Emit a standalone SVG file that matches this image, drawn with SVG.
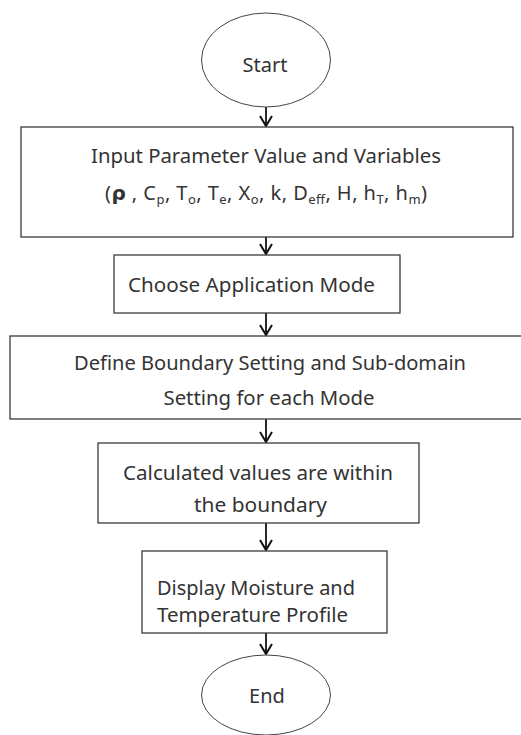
<svg xmlns="http://www.w3.org/2000/svg" width="521" height="735" viewBox="0 0 521 735">
<style>
.box{fill:#fff;stroke:#3a3a3a;stroke-width:1.3}
.ell{fill:#fff;stroke:#444;stroke-width:1}
.t{font-family:"Noto Sans","Open Sans","Liberation Sans",sans-serif;font-size:20px;fill:#333}
.c{text-anchor:middle}
.sub{font-size:13px}
.con{fill:none;stroke:#111;stroke-width:1.8}
</style>
<defs>
<marker id="v" viewBox="0 0 14 12" refX="7" refY="11" markerWidth="14" markerHeight="12" markerUnits="userSpaceOnUse" orient="0">
<path d="M1,1 L7,11 L13,1" fill="none" stroke="#111" stroke-width="2"/>
</marker>
<clipPath id="cb4"><rect x="98" y="443" width="322" height="80"/></clipPath>
</defs>
<rect width="521" height="735" fill="#fff"/>
<g id="connectors">
<path class="con" d="M266,107 V126" marker-end="url(#v)"/>
<path class="con" d="M266,237 V254" marker-end="url(#v)"/>
<path class="con" d="M266,313 V335" marker-end="url(#v)"/>
<path class="con" d="M266,419 V442" marker-end="url(#v)"/>
<path class="con" d="M266,523 V550" marker-end="url(#v)"/>
<path class="con" d="M266,633 V654" marker-end="url(#v)"/>
</g>
<g id="start">
<ellipse class="ell" cx="266" cy="60" rx="64.5" ry="47"/>
<text class="t c" x="265" y="72">Start</text>
</g>
<g id="input">
<rect class="box" x="21" y="127" width="492" height="110"/>
<text class="t c" x="266" y="163" textLength="350" lengthAdjust="spacingAndGlyphs">Input Parameter Value and Variables</text>
<text class="t" x="105" y="200" textLength="322" lengthAdjust="spacing">(<tspan font-weight="bold" font-family="DejaVu Sans,sans-serif">ρ</tspan> , C<tspan class="sub" dy="4">p</tspan><tspan dy="-4">, T</tspan><tspan class="sub" dy="4">o</tspan><tspan dy="-4">, T</tspan><tspan class="sub" dy="4">e</tspan><tspan dy="-4">, X</tspan><tspan class="sub" dy="4">o</tspan><tspan dy="-4">, k, D</tspan><tspan class="sub" dy="4">eff</tspan><tspan dy="-4">, H, h</tspan><tspan class="sub" dy="4">T</tspan><tspan dy="-4">, h</tspan><tspan class="sub" dy="4">m</tspan><tspan dy="-4">)</tspan></text>
</g>
<g id="mode">
<rect class="box" x="114" y="255" width="286" height="58"/>
<text class="t" x="128" y="292" textLength="247" lengthAdjust="spacingAndGlyphs">Choose Application Mode</text>
</g>
<g id="boundary">
<rect class="box" x="10" y="336" width="512" height="83"/>
<text class="t c" x="270" y="370" textLength="392" lengthAdjust="spacingAndGlyphs">Define Boundary Setting and Sub-domain</text>
<text class="t c" x="269" y="405" textLength="211" lengthAdjust="spacingAndGlyphs">Setting for each Mode</text>
</g>
<g id="calc">
<rect class="box" x="98" y="443" width="321" height="80"/>
<g clip-path="url(#cb4)">
<text class="t" x="123" y="480" textLength="270" lengthAdjust="spacingAndGlyphs">Calculated values are within</text>
<text class="t" x="194" y="512" textLength="133" lengthAdjust="spacingAndGlyphs">the boundary</text>
</g>
</g>
<g id="display">
<rect class="box" x="142" y="551" width="245" height="82"/>
<text class="t" x="157" y="595" textLength="198" lengthAdjust="spacingAndGlyphs">Display Moisture and</text>
<text class="t" x="157" y="622" textLength="191" lengthAdjust="spacingAndGlyphs">Temperature Profile</text>
</g>
<g id="end">
<ellipse class="ell" cx="266" cy="695" rx="64.5" ry="40"/>
<text class="t c" x="267" y="703">End</text>
</g>
</svg>
